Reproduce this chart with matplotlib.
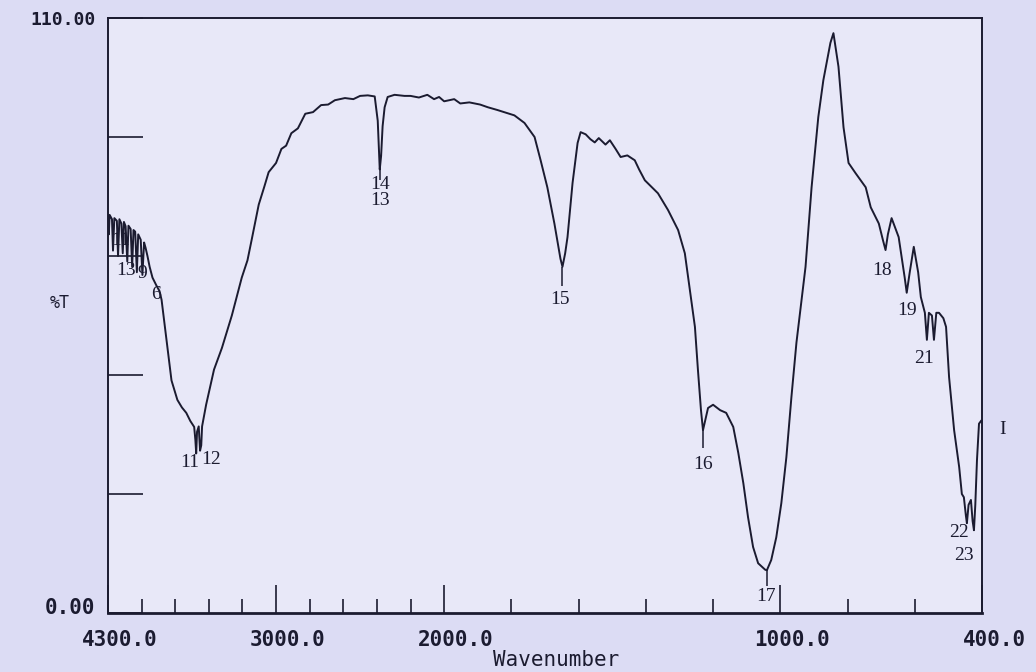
import numpy as np
import matplotlib
matplotlib.use("Agg")
import matplotlib.pyplot as plt
from matplotlib.transforms import ScaledTranslation

# --------- spectrum (wavenumber, %T) ---------
wn = [4000, 3995, 3990, 3976, 3970, 3962, 3947, 3940, 3932, 3920, 3912, 3905,
      3895, 3885, 3878, 3865, 3856, 3848, 3838, 3828, 3820, 3805, 3795, 3785,
      3776, 3765, 3752, 3735, 3711, 3693, 3681, 3652, 3622, 3587, 3560, 3534,
      3510, 3487, 3480, 3475, 3470, 3460, 3452, 3445, 3440, 3416, 3369, 3322,
      3263, 3204, 3170, 3145, 3103, 3070, 3044, 3000, 2968, 2940, 2909, 2870,
      2826, 2780, 2732, 2690, 2650, 2590, 2540, 2500,
      2454, 2413, 2395, 2388, 2383, 2375, 2366, 2354, 2336, 2295, 2236, 2200,
      2150, 2100, 2060, 2030, 2000, 1970, 1952, 1925, 1893, 1870, 1842, 1791,
      1761, 1731, 1713, 1693, 1672, 1654,
      1648, 1640, 1633, 1618, 1603, 1594, 1579, 1565, 1552, 1540, 1520, 1507,
      1490, 1475, 1455, 1433, 1420, 1403,
      1364, 1334, 1304, 1284, 1266, 1254, 1245, 1236, 1230, 1215, 1200, 1179,
      1161, 1140, 1125, 1110, 1096, 1081, 1066, 1045, 1040, 1027, 1012, 997,
      982, 967, 952, 925, 907, 887, 872, 851, 842, 827, 812, 797, 776, 746,
      731, 707, 695, 687, 680, 669, 663, 648, 630, 624, 615, 603, 590, 582,
      570, 564, 558, 549, 543, 536, 528, 515, 507, 498, 483, 468, 460, 454,
      448, 445, 440, 433, 428, 424, 420, 415, 409, 403]
T = [73.5, 70.0, 73.6, 72.8, 67.0, 73.0, 72.5, 66.0, 72.8, 72.0, 66.5, 72.3,
     71.5, 65.0, 71.6, 71.0, 64.0, 70.8, 70.5, 63.0, 70.0, 69.0, 62.5, 68.5,
     67.5, 66.0, 64.0, 62.0, 60.5, 59.5, 57.9, 50.5, 43.0, 39.4, 38.0, 37.0,
     35.5, 34.4, 32.0, 29.5, 33.5, 34.5, 30.0, 31.0, 34.5, 38.5, 45.0, 49.0,
     55.0, 62.0, 65.2, 69.0, 75.5, 78.8, 81.5, 83.2, 85.8, 86.4, 88.7, 89.6,
     92.3, 92.6, 93.9, 94.0, 94.8, 95.2, 95.0, 95.6,
     95.7, 95.5, 91.0, 86.0, 82.0, 84.5, 90.0, 93.5, 95.4, 95.8, 95.6, 95.6,
     95.3, 95.8, 95.0, 95.4, 94.6, 95.0, 94.2, 94.4, 94.0, 93.5, 93.0, 92.0,
     90.6, 88.0, 83.7, 78.7, 72.0, 65.5,
     64.0, 66.5, 69.5, 79.5, 86.9, 88.9, 88.5, 87.6, 87.0, 87.8, 86.6, 87.4,
     85.8, 84.3, 84.6, 83.7, 82.0, 80.0,
     77.6, 74.5, 70.8, 66.5, 58.4, 52.9, 44.9, 37.5, 33.8, 37.9, 38.5, 37.5,
     37.0, 34.4, 29.6, 24.0, 17.7, 12.2, 9.2, 8.0, 7.9, 9.8, 14.0, 20.3,
     28.8, 39.9, 50.0, 64.0, 78.7, 91.7, 98.5, 105.4, 107.2, 101.0, 89.8, 83.2, 81.3, 78.7,
     75.0, 72.0, 69.0, 67.1, 70.0, 73.0, 72.0, 69.5, 62.0, 59.2, 63.0, 67.7, 63.0, 58.4,
     55.5, 50.5, 55.5, 55.0, 50.5, 55.5, 55.5, 54.5, 52.9, 43.6, 33.8, 27.0, 22.0, 21.4,
     18.0, 16.6, 20.0, 20.9, 17.0, 15.3, 20.0, 28.3, 35.0, 35.5]

# peak numbers printed by the instrument
peak_txt = ["11", "13", "9", "6", "11", "12", "14", "13", "15", "16", "17",
            "18", "19", "21", "22", "23"]
peak_wn = [3925, 3890, 3795, 3717, 3515, 3385, 2380, 2382, 1654, 1230, 1042,
           696, 624, 573, 468, 454]
peak_T = [68.9, 63.4, 62.7, 58.9, 27.9, 28.3, 79.3, 76.3, 57.9, 27.4, 3.0,
          63.4, 56.0, 47.1, 14.8, 10.6]

xticks = [4000, 3000, 2000, 1000, 400]
xticklabels = ["4300.0", "3000.0", "2000.0", "1000.0", "400.0"]
xminor = [3800, 3600, 3400, 3200, 2800, 2600, 2400, 2200,
          1800, 1600, 1400, 1200, 800, 600]
yticks = [0, 22, 44, 66, 88, 110]
yticklabels = ["0.00", "", "", "", "", "110.00"]


# 4000-2000 and 2000-400 are drawn at different scales (x2 below 2000)
def fwd(w):
    w = np.asarray(w, dtype=float)
    return np.where(w >= 2000, w, 2000 - 2 * (2000 - w))


def inv(p):
    p = np.asarray(p, dtype=float)
    return np.where(p >= 2000, p, 2000 - (2000 - p) / 2)


ink = "#1b1b30"
mono = "DejaVu Sans Mono"

fig = plt.figure(figsize=(10.36, 6.72), dpi=100, facecolor="#dcdcf4")
ax = fig.add_axes([0.1042, 0.0878, 0.8437, 0.8854], facecolor="#e8e8f8")
ax.set_xscale("function", functions=(fwd, inv))
ax.set_xlim(4000, 400)
ax.set_ylim(0, 110)

ax.plot(wn, T, color=ink, lw=1.4)

# drop lines from a few minima to their numbers
ax.vlines([2383, 1648, 1230, 1040], [80.0, 60.5, 30.5, 5.0],
          [82.0, 64.0, 33.8, 7.9], color=ink, lw=1.1)

for s, x, y in zip(peak_txt, peak_wn, peak_T):
    ax.text(x, y, s, ha="center", va="center", fontsize=14,
            family="Liberation Serif", color=ink)

ax.set_xticks(xticks)
ax.set_xticklabels(xticklabels, fontfamily=mono, fontsize=15, fontweight="bold")
ax.set_xticks(xminor, minor=True)
ax.tick_params(axis="x", which="major", direction="in", length=20, width=1.2,
               color=ink, labelcolor=ink, pad=12)
ax.tick_params(axis="x", which="minor", direction="in", length=10, width=1.2,
               color=ink)
ax.set_yticks(yticks)
ax.set_yticklabels(yticklabels, fontfamily=mono, fontsize=13, fontweight="bold")
ax.tick_params(axis="y", which="major", direction="in", length=25, width=1.2,
               color=ink, labelcolor=ink, pad=9)
ax.yaxis.set_minor_locator(matplotlib.ticker.NullLocator())

# instrument prints the labels a little right of the ticks
for lab in ax.get_xticklabels():
    lab.set_transform(lab.get_transform() + ScaledTranslation(0.12, 0, fig.dpi_scale_trans))
ylabs = ax.get_yticklabels()
ylabs[0].set_transform(ylabs[0].get_transform() + ScaledTranslation(0, 0.07, fig.dpi_scale_trans))
ylabs[0].set_fontsize(15)

for sp in ax.spines.values():
    sp.set_color(ink)
    sp.set_linewidth(1.4)
ax.spines["bottom"].set_linewidth(2.0)

ax.set_ylabel("%T", rotation=0, fontfamily=mono, fontsize=12, color=ink)
ax.yaxis.set_label_coords(-0.055, 0.506)
ax.set_xlabel("Wavenumber", fontfamily=mono, fontsize=15, color=ink)
ax.xaxis.set_label_coords(0.513, -0.079)
ax.xaxis.label.set_va("center")

fig.text(1003 / 1036, 1 - 430 / 672, "I", fontsize=14, family="Liberation Serif",
         color=ink, ha="center", va="center")

fig.savefig("out.png", dpi=100, facecolor=fig.get_facecolor())
